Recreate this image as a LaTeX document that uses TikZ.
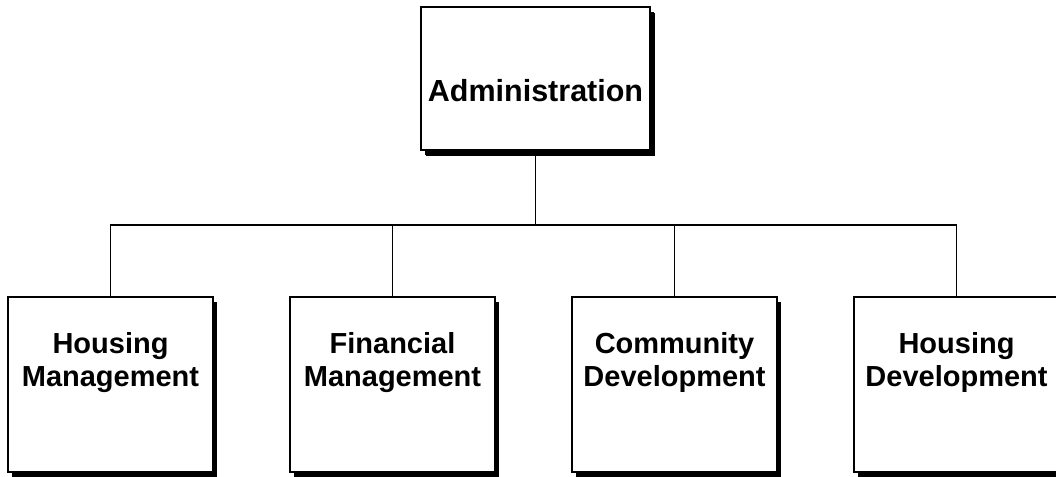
\documentclass[tikz,border=0pt]{standalone}
\usepackage{fontspec}
\setmainfont{Liberation Sans}
\usepackage{tikz}
\usetikzlibrary{
  positioning,
  shadows
}
\definecolor{orgLine}{HTML}{000000}
\definecolor{orgFill}{HTML}{FFFFFF}
\tikzset{
  orgbox/.style={
    draw=orgLine, fill=orgFill, line width=1.7pt, inner sep=0pt, outer sep=0pt,
    drop shadow={shadow xshift=4pt, shadow yshift=-5pt, opacity=1, fill=orgLine}
  },
  headbox/.style={orgbox, minimum width=229pt, minimum height=143pt,
    drop shadow={shadow xshift=5pt, shadow yshift=-6pt, opacity=1, fill=orgLine}},
  unitbox/.style={orgbox, minimum width=205pt, minimum height=175pt},
  headname/.style={font=\fontsize{30.5}{33}\selectfont\bfseries, align=center, inner sep=0pt},
  unitname/.style={font=\fontsize{29}{33}\selectfont\bfseries, align=center, inner sep=0pt},
  link/.style={line width=1.4pt, orgLine}
}

\begin{document}
\begin{tikzpicture}[x=1pt, y=-1pt, node distance=77pt]
  \useasboundingbox (0,0) rectangle (1056,476);
  % head office
  \node[headbox] (admin) at (535.5,78.5) {};
  \node[headname] (adminname) at ([yshift=-12pt]admin.center) {Administration};
  % units
  \node[unitbox] (hm) at (110.5,384.5) {};
  \node[unitbox, right=of hm] (fm) {};
  \node[unitbox, right=of fm] (cd) {};
  \node[unitbox, right=of cd] (hd) {};
  \node[unitname] (hmname) at ([yshift=22pt]hm.center) {Housing\\Management};
  \node[unitname] (fmname) at ([yshift=22pt]fm.center) {Financial\\Management};
  \node[unitname] (cdname) at ([yshift=22pt]cd.center) {Community\\Development};
  \node[unitname] (hdname) at ([yshift=22pt]hd.center) {Housing\\Development};
  % connectors
  \coordinate (bus) at (535.5,225);
  \draw[link] (admin.south) -- (bus);
  \draw[link] (hm.north) |- (bus) -| (hd.north);
  \draw[link] (fm.north) -- (fm.north |- bus);
  \draw[link] (cd.north) -- (cd.north |- bus);
\end{tikzpicture}
\end{document}
